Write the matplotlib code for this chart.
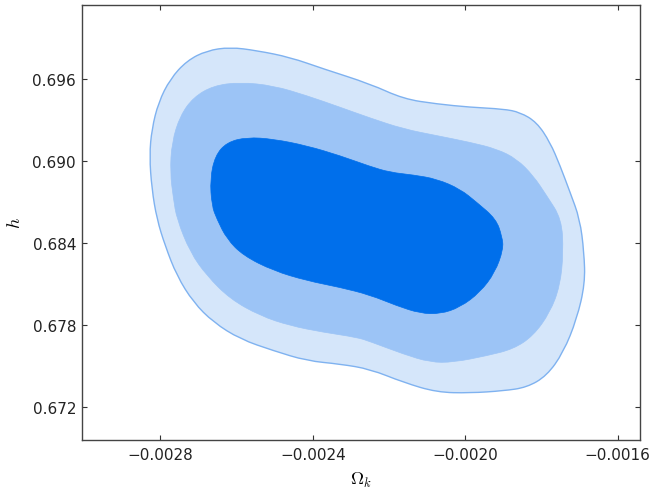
import matplotlib
matplotlib.use('Agg')
import matplotlib.pyplot as plt
from matplotlib.path import Path
from matplotlib.patches import PathPatch

# contour outlines (omega_k, h), clockwise from the top
outer_x = [-0.0026171, -0.0025470, -0.0024596, -0.0023722, -0.0022496, -0.0021622,
           -0.0020745, -0.0019871, -0.0018997, -0.0018559, -0.0018121, -0.0017771,
           -0.0017509, -0.0017247, -0.0016990, -0.0016879, -0.0016853, -0.0017070,
           -0.0017422, -0.0017859, -0.0018383, -0.0018997, -0.0019871, -0.0020745,
           -0.0021622, -0.0022496, -0.0023283, -0.0024157, -0.0025034, -0.0025908,
           -0.0026609, -0.0027134, -0.0027570, -0.0027877, -0.0028094, -0.0028226,
           -0.0028289, -0.0028226, -0.0028052, -0.0027745, -0.0027307, -0.0026782]
outer_y = [0.69835, 0.69810, 0.69761, 0.69676, 0.69566, 0.69456, 0.69419, 0.69395,
           0.69382, 0.69358, 0.69285, 0.69138, 0.68967, 0.68772, 0.68576, 0.68332,
           0.68103, 0.67843, 0.67599, 0.67427, 0.67342, 0.67317, 0.67301, 0.67306,
           0.67379, 0.67476, 0.67513, 0.67537, 0.67611, 0.67696, 0.67819, 0.67965,
           0.68160, 0.68380, 0.68576, 0.68796, 0.69040, 0.69236, 0.69431, 0.69602,
           0.69736, 0.69810]

mid_x = [-0.0025908, -0.0025034, -0.0024157, -0.0023283, -0.0022496, -0.0021622,
         -0.0020745, -0.0019871, -0.0019170, -0.0018646, -0.0018210, -0.0017859,
         -0.0017469, -0.0017422, -0.0017509, -0.0017771, -0.0018210, -0.0018735,
         -0.0019433, -0.0020310, -0.0020921, -0.0021622, -0.0022496, -0.0022845,
         -0.0023722, -0.0024596, -0.0025383, -0.0026171, -0.0026782, -0.0027220,
         -0.0027570, -0.0027659, -0.0027745, -0.0027701, -0.0027483, -0.0027134,
         -0.0026609]
mid_y = [0.69578, 0.69553, 0.69480, 0.69395, 0.69316, 0.69236, 0.69187, 0.69138,
         0.69089, 0.69016, 0.68893, 0.68747, 0.68576, 0.68332, 0.68087, 0.67892,
         0.67721, 0.67623, 0.67574, 0.67526, 0.67526, 0.67586, 0.67678, 0.67709,
         0.67746, 0.67794, 0.67867, 0.67990, 0.68160, 0.68332, 0.68576, 0.68723,
         0.68918, 0.69138, 0.69333, 0.69468, 0.69553]

inner_x = [-0.0025732, -0.0025034, -0.0024157, -0.0023283, -0.0022496, -0.0021971,
           -0.0021359, -0.0020745, -0.0020134, -0.0019695, -0.0019189, -0.0019031,
           -0.0018997, -0.0019215, -0.0019609, -0.0020134, -0.0020659, -0.0021184,
           -0.0021795, -0.0022496, -0.0023283, -0.0024157, -0.0025034, -0.0025822,
           -0.0026257, -0.0026520, -0.0026651, -0.0026696, -0.0026564, -0.0026257]
inner_y = [0.69175, 0.69162, 0.69113, 0.69040, 0.68961, 0.68918, 0.68899, 0.68869,
           0.68796, 0.68698, 0.68576, 0.68447, 0.68356, 0.68185, 0.68039, 0.67929,
           0.67880, 0.67885, 0.67940, 0.68019, 0.68075, 0.68124, 0.68197, 0.68307,
           0.68429, 0.68576, 0.68673, 0.68869, 0.69040, 0.69138]

x_ticks = [-0.0028, -0.0024, -0.0020, -0.0016]
x_ticklabels = ['\u22120.0028', '\u22120.0024', '\u22120.0020', '\u22120.0016']
y_ticks = [0.672, 0.678, 0.684, 0.690, 0.696]
y_ticklabels = ['0.672', '0.678', '0.684', '0.690', '0.696']


def smooth_path(xs, ys):
    # quadratic b-spline style closed path: read points act as control points
    n = len(xs)
    mids = [((xs[i] + xs[(i + 1) % n]) / 2, (ys[i] + ys[(i + 1) % n]) / 2) for i in range(n)]
    verts = [mids[-1]]
    codes = [Path.MOVETO]
    for i in range(n):
        verts += [(xs[i], ys[i]), mids[i]]
        codes += [Path.CURVE3, Path.CURVE3]
    return Path(verts, codes)


plt.rcParams['mathtext.fontset'] = 'cm'
fig = plt.figure(figsize=(6.55, 4.89), dpi=100)
ax = fig.add_axes([0.1246, 0.0988, 0.8531, 0.8889])

ax.add_patch(PathPatch(smooth_path(outer_x, outer_y), facecolor='#d5e6fa',
                       edgecolor='#7fb2f0', lw=1.0))
ax.add_patch(PathPatch(smooth_path(mid_x, mid_y), facecolor='#9cc4f6',
                       edgecolor='#9cc4f6', lw=0.5))
ax.add_patch(PathPatch(smooth_path(inner_x, inner_y), facecolor='#006feb',
                       edgecolor='#006feb', lw=0.5))

ax.set_xlim(-0.003007, -0.00154)
ax.set_ylim(0.66959, 0.70144)
ax.set_xticks(x_ticks)
ax.set_xticklabels(x_ticklabels)
ax.set_yticks(y_ticks)
ax.set_yticklabels(y_ticklabels)
ax.tick_params(direction='in', top=True, right=True, length=3.5, width=0.8,
               labelsize=11, colors='#333333', labelcolor='#222222')
ax.tick_params(axis='x', pad=5)
ax.tick_params(axis='y', pad=4)
for s in ax.spines.values():
    s.set_color('#444444')
    s.set_linewidth(1.0)

ax.set_xlabel(r'$\Omega_k$', fontsize=13, labelpad=6)
ax.set_ylabel(r'$h$', fontsize=13, labelpad=6)

fig.savefig('out.png', dpi=100)
